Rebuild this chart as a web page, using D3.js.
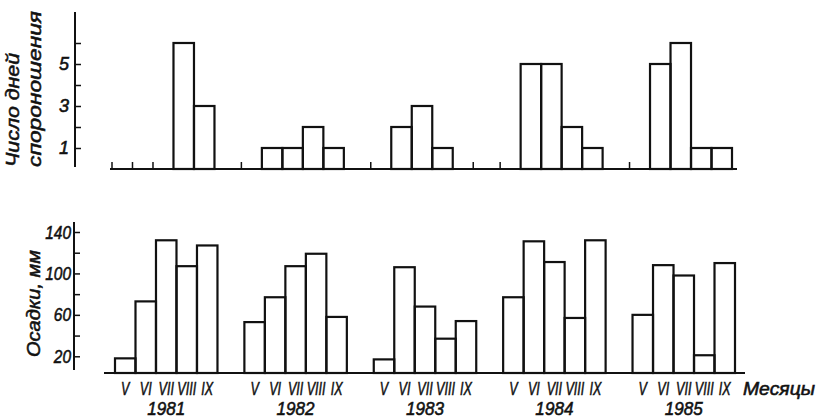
<!DOCTYPE html>
<html><head><meta charset="utf-8">
<script src="https://cdn.jsdelivr.net/npm/d3@7"></script>
<style>
body{margin:0;background:#fff;}
text{font-family:"Liberation Sans",Arial,sans-serif;font-style:italic;fill:#111;stroke:#111;stroke-width:0.55;}
</style></head><body>
<svg id="c" width="818" height="418"></svg>
<script>
const years = ["1981","1982","1983","1984","1985"];
const months = ["V","VI","VII","VIII","IX"];
// Число дней спороношения по месяцам V–IX
const spore1981 = [0,0,0,6,3];
const spore1982 = [0,1,1,2,1];
const spore1983 = [0,2,3,1,0];
const spore1984 = [0,5,5,2,1];
const spore1985 = [0,5,6,1,1];
// Осадки, мм по месяцам V–IX
const rain1981 = [18,73,132,107,127];
const rain1982 = [53,77,107,119,58];
const rain1983 = [17,106,68,37,54];
const rain1984 = [77,131,111,57,132];
const rain1985 = [60,108,98,21,110];
const sporeTicks = [1,2,3,4,5,6];
const sporeLabels = [1,3,5];
const rainTicks = [20,40,60,80,100,120,140];
const rainLabels = [20,60,100,140];

const spore = [spore1981,spore1982,spore1983,spore1984,spore1985];
const rain = [rain1981,rain1982,rain1983,rain1984,rain1985];

const svg = d3.select("#c");
const ink = "#111";

const xYear = d3.scaleBand().domain(years).range([115,735]).paddingInner(0.208).paddingOuter(0);
const xMonth = d3.scaleBand().domain(months).range([0,xYear.bandwidth()]);

// ---------- top chart ----------
const topShift = -3;
const yTop = d3.scaleLinear().domain([0,7.5]).range([169,11.5]);
const gTop = svg.append("g");

gTop.append("line").attr("x1",110).attr("x2",737).attr("y1",yTop(0)).attr("y2",yTop(0))
  .attr("stroke",ink).attr("stroke-width",2);

const topData = [];
years.forEach((yr,i)=>months.forEach((m,j)=>topData.push({yr,m,j,v:spore[i][j],prev:j>0?spore[i][j-1]:0})));

gTop.selectAll("rect.b").data(topData.filter(d=>d.v>0)).join("rect")
  .attr("x",d=>xYear(d.yr)+xMonth(d.m)+topShift)
  .attr("width",xMonth.bandwidth())
  .attr("y",d=>yTop(d.v))
  .attr("height",d=>yTop(0)-yTop(d.v))
  .attr("fill","none").attr("stroke",ink).attr("stroke-width",2.2);

// marks for months with no sporulation
gTop.selectAll("line.z").data(topData.filter(d=>d.v===0)).join("line")
  .attr("x1",d=>xYear(d.yr)+xMonth(d.m)+topShift+(d.prev>0?xMonth.bandwidth():0))
  .attr("x2",d=>xYear(d.yr)+xMonth(d.m)+topShift+(d.prev>0?xMonth.bandwidth():0))
  .attr("y1",yTop(0)).attr("y2",yTop(0)-7)
  .attr("stroke",ink).attr("stroke-width",1.5);

const axTop = d3.axisLeft(yTop).tickValues(sporeTicks).tickSizeInner(-6).tickSizeOuter(0).tickPadding(6)
  .tickFormat(d=>sporeLabels.includes(d)?d:"");
const gAxT = svg.append("g").attr("transform","translate(75,0)").call(axTop);
gAxT.select(".domain").remove();
gAxT.selectAll(".tick line").attr("stroke",ink).attr("stroke-width",1.5);
gAxT.selectAll(".tick text").attr("font-size",18).attr("fill",ink).style("font-family",null);
gAxT.append("line").attr("x1",0).attr("x2",0).attr("y1",12).attr("y2",167).attr("stroke",ink).attr("stroke-width",2);

svg.append("text").attr("transform","translate(19,167) rotate(-90)").attr("font-size",19)
  .attr("textLength",114).attr("lengthAdjust","spacingAndGlyphs").text("Число дней");
svg.append("text").attr("transform","translate(41,167) rotate(-90)").attr("font-size",19)
  .attr("textLength",156).attr("lengthAdjust","spacingAndGlyphs").text("спороношения");

// ---------- bottom chart ----------
const yBot = d3.scaleLinear().domain([0,140]).range([377,232]);
const baseB = 373;
const gBot = svg.append("g");
gBot.append("line").attr("x1",104).attr("x2",745).attr("y1",baseB).attr("y2",baseB)
  .attr("stroke",ink).attr("stroke-width",2);

const botData = [];
years.forEach((yr,i)=>months.forEach((m,j)=>botData.push({yr,m,v:rain[i][j]})));
gBot.selectAll("rect").data(botData).join("rect")
  .attr("x",d=>xYear(d.yr)+xMonth(d.m))
  .attr("width",xMonth.bandwidth())
  .attr("y",d=>yBot(d.v))
  .attr("height",d=>baseB-yBot(d.v))
  .attr("fill","none").attr("stroke",ink).attr("stroke-width",2.2);

const axBot = d3.axisLeft(yBot).tickValues(rainTicks).tickSizeInner(-6).tickSizeOuter(0).tickPadding(3)
  .tickFormat(d=>rainLabels.includes(d)?d:"");
const gAxB = svg.append("g").attr("transform","translate(74,0)").call(axBot);
gAxB.select(".domain").remove();
gAxB.selectAll(".tick line").attr("stroke",ink).attr("stroke-width",1.5);
gAxB.selectAll(".tick text").attr("font-size",19).attr("fill",ink).style("font-family",null)
  .attr("textLength",function(){return this.textContent.length*8.6;}).attr("lengthAdjust","spacingAndGlyphs");
gAxB.append("line").attr("x1",0).attr("x2",0).attr("y1",222).attr("y2",370).attr("stroke",ink).attr("stroke-width",2);

svg.append("text").attr("transform","translate(40,357) rotate(-90)").attr("font-size",19)
  .attr("textLength",107).attr("lengthAdjust","spacingAndGlyphs").text("Осадки, мм");

// month labels (narrow)
gBot.selectAll("text.m").data(botData).join("text")
  .attr("transform",d=>`translate(${xYear(d.yr)+xMonth(d.m)+xMonth.bandwidth()/2},395) scale(0.66,1)`)
  .attr("text-anchor","middle").attr("font-size",19).text(d=>d.m);
// year labels
svg.selectAll("text.y").data(years).join("text")
  .attr("transform",d=>`translate(${xYear(d)+xYear.bandwidth()/2},415) scale(0.9,1)`)
  .attr("text-anchor","middle").attr("font-size",19).text(d=>d);

svg.append("text").attr("x",743).attr("y",395).attr("font-size",18)
  .attr("textLength",72).attr("lengthAdjust","spacingAndGlyphs").text("Месяцы");
</script>
</body></html>
